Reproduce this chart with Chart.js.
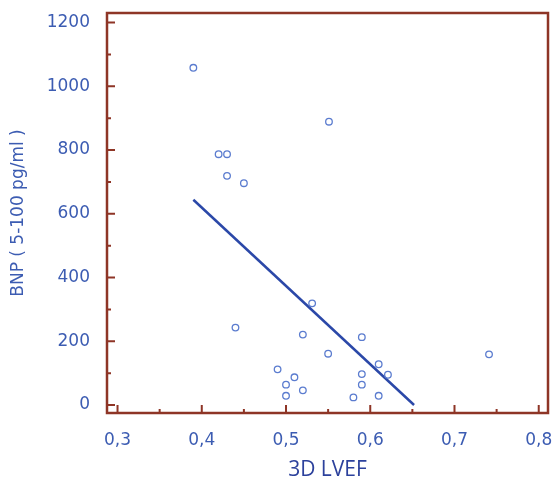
<!DOCTYPE html>
<html>
<head>
<meta charset="utf-8">
<script src="https://cdn.jsdelivr.net/npm/chart.js@4/dist/chart.umd.min.js"></script>
<style>
  html, body { margin: 0; padding: 0; background: #fff; }
  #wrap { width: 558px; height: 484px; }
</style>
</head>
<body>
<div id="wrap"><canvas id="c"></canvas></div>
<script>
// 3D LVEF vs BNP, one point per patient
var lvef = [0.39, 0.42, 0.43, 0.43, 0.45, 0.551, 0.44, 0.531, 0.52, 0.59, 0.55, 0.49,
            0.51, 0.50, 0.52, 0.50, 0.59, 0.59, 0.58, 0.61, 0.61, 0.621, 0.741];
var bnp  = [1058, 787, 787, 719, 696, 889, 243, 319, 221, 213, 161, 112,
            87, 64, 46, 29, 97, 64, 24, 29, 128, 95, 159];

// regression line ends
var fitX = [0.39, 0.652];
var fitY = [644, 0];

var xTicks = [0.3, 0.4, 0.5, 0.6, 0.7, 0.8];
var yTicks = [0, 200, 400, 600, 800, 1000, 1200];

var frameCol = '#8e3526';
var labelCol = '#3c5cb2';

var inwardTicks = {
  id: 'inwardTicks',
  afterDraw: function(chart) {
    var ctx = chart.ctx, a = chart.chartArea;
    var xs = chart.scales.x, ys = chart.scales.y;
    ctx.save();
    ctx.strokeStyle = frameCol;
    ctx.lineWidth = 2;
    ctx.beginPath();
    for (var v = 0.3; v <= 0.8001; v += 0.05) {
      var px = xs.getPixelForValue(v);
      var major = Math.abs(v * 10 - Math.round(v * 10)) < 0.01;
      ctx.moveTo(px, a.bottom);
      ctx.lineTo(px, a.bottom - (major ? 8 : 4));
    }
    for (var w = 0; w <= 1200; w += 100) {
      var py = ys.getPixelForValue(w);
      ctx.moveTo(a.left, py);
      ctx.lineTo(a.left + (w % 200 === 0 ? 8 : 4), py);
    }
    ctx.stroke();
    ctx.lineWidth = 2.5;
    ctx.strokeRect(a.left, a.top, a.right - a.left, a.bottom - a.top);
    ctx.restore();
  }
};

var pts = lvef.map(function(v, i) { return {x: v, y: bnp[i]}; });
var fit = fitX.map(function(v, i) { return {x: v, y: fitY[i]}; });

new Chart(document.getElementById('c'), {
  type: 'scatter',
  data: {
    datasets: [
      {
        data: pts,
        pointRadius: 3.3,
        pointBorderWidth: 1.3,
        borderColor: '#5b7ccf',
        backgroundColor: 'rgba(255,255,255,0)'
      },
      {
        type: 'line',
        data: fit,
        borderColor: '#2b48a8',
        borderWidth: 2.5,
        pointRadius: 0,
        fill: false
      }
    ]
  },
  options: {
    responsive: true,
    maintainAspectRatio: false,
    animation: false,
    layout: { padding: { top: 13, right: 10, left: 0, bottom: 0 } },
    plugins: { legend: { display: false }, tooltip: { enabled: false } },
    scales: {
      x: {
        type: 'linear',
        min: 0.2875,
        max: 0.811,
        grid: { display: false },
        border: { display: false },
        afterBuildTicks: function(s) { s.ticks = xTicks.map(function(v) { return {value: v}; }); },
        afterFit: function(s) { s.height = 71; s.paddingLeft = 0; s.paddingRight = 0; },
        ticks: {
          color: labelCol,
          padding: 9,
          maxRotation: 0,
          font: { family: 'DejaVu Sans', size: 17 },
          callback: function(v) { return v.toFixed(1).replace('.', ','); }
        },
        title: {
          display: true,
          text: '3D LVEF',
          color: '#2c419c',
          padding: { top: 0, bottom: 1 },
          font: { family: 'Open Sans', size: 21 }
        }
      },
      y: {
        type: 'linear',
        min: -25,
        max: 1230,
        grid: { display: false },
        border: { display: false },
        afterBuildTicks: function(s) { s.ticks = yTicks.map(function(v) { return {value: v}; }); },
        afterFit: function(s) { s.width = 107; s.paddingTop = 0; s.paddingBottom = 0; },
        ticks: {
          color: labelCol,
          padding: 9,
          font: { family: 'DejaVu Sans', size: 17 },
          callback: function(v) { return String(v); }
        },
        title: {
          display: true,
          text: 'BNP ( 5-100 pg/ml )',
          color: labelCol,
          padding: { top: 8, bottom: 0 },
          font: { family: 'DejaVu Sans', size: 17 }
        }
      }
    }
  },
  plugins: [inwardTicks]
});
</script>
</body>
</html>
